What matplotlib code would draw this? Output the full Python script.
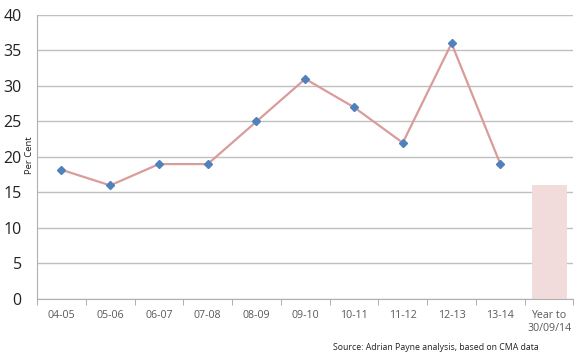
import matplotlib
matplotlib.use("Agg")
import matplotlib.pyplot as plt
import numpy as np

# categorias y valores
categories = ["04-05", "05-06", "06-07", "07-08", "08-09", "09-10",
              "10-11", "11-12", "12-13", "13-14", "Year to\n30/09/14"]
line_values = [18.2, 16, 19, 19, 25, 31, 27, 22, 36, 19]
bar_value = 16

plt.rcParams['font.family'] = ['Open Sans', 'DejaVu Sans']

fig = plt.figure(figsize=(5.84, 3.57), dpi=100)
ax = fig.add_axes([0.0634, 0.1625, 0.9186, 0.7955])

x = np.arange(len(categories))
# barra del ultimo periodo
ax.bar(x[-1], bar_value, width=0.72, color="#f2dcdb", zorder=2)
# linea con marcadores
ax.plot(x[:len(line_values)], line_values, color="#d99c9a", lw=1.6, zorder=3)
ax.plot(x[:len(line_values)], line_values, ls="none", marker="D", ms=4.5,
        color="#4f81bd", zorder=4)

# ejes
ax.set_xlim(-0.5, len(categories) - 0.5)
ax.set_ylim(0, 40)
ax.set_yticks(np.arange(0, 41, 5))
ax.yaxis.grid(True, color="#c0c0c0", lw=1)
ax.set_axisbelow(True)
ax.tick_params(axis="y", length=0, labelsize=11.5, labelcolor="#222222", pad=11)
ax.set_xticks(x)
ax.set_xticklabels(categories, fontsize=7.7, color="#595959")
ax.set_xticks(np.arange(-0.5, len(categories), 1), minor=True)
ax.tick_params(axis="x", which="major", length=0, pad=8)
ax.tick_params(axis="x", which="minor", length=4, color="#a0a0a0", direction="out")
for s in ["top", "right"]:
    ax.spines[s].set_visible(False)
ax.spines["left"].set_color("#b0b0b0")
ax.spines["bottom"].set_color("#b0b0b0")
ax.set_ylabel("Per Cent", fontsize=6.8, color="#222222")
ax.yaxis.set_label_coords(-0.006, 0.505)

fig.text(333 / 584, 0.028, "Source: Adrian Payne analysis, based on CMA data",
         ha="left", va="center", fontsize=6.3, color="#222222")

fig.savefig("out.png", dpi=100)
